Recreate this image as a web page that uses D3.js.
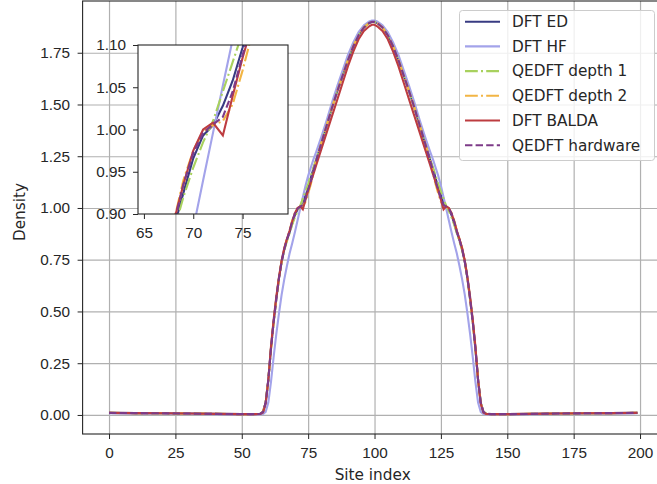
<!DOCTYPE html>
<html>
<head>
<meta charset="utf-8">
<script src="https://cdn.jsdelivr.net/npm/d3@7"></script>
<style>
  body { margin: 0; background: #fff; }
  svg { display: block; font-family: "DejaVu Sans", sans-serif; }
  .tick text { font-size: 15.3px; fill: #262626; }
  .tick line { stroke: #262626; }
  .domain { display: none; }
  .grid .tick line { stroke: #b0b0b0; stroke-width: 1.2; }
  .grid text { display: none; }
</style>
</head>
<body>
<svg width="657" height="484"></svg>
<script>
const sites = [0, 10, 20, 30, 40, 50, 55, 57,
  58, 59, 60, 61, 62, 63, 64, 65, 66, 67, 68, 69, 70, 71, 72, 73, 74, 75, 76, 77, 78,
  80, 82, 84, 86, 88, 90, 92, 94, 96, 98, 99,
  100, 101, 103, 105, 107, 109, 111, 113, 115, 117, 119, 121,
  122, 123, 124, 125, 126, 127, 128, 129, 130, 131, 132, 133, 134, 135, 136, 137, 138, 139, 140, 141, 142,
  144, 149, 159, 169, 179, 189, 199];

const dftED = [0.010, 0.009, 0.008, 0.007, 0.005, 0.004, 0.004, 0.006,
  0.015, 0.06, 0.17, 0.32, 0.45, 0.56, 0.66, 0.74, 0.80, 0.845, 0.882, 0.925, 0.966, 0.993, 1.005, 1.028, 1.058, 1.097, 1.145, 1.19, 1.23,
  1.315, 1.40, 1.485, 1.565, 1.64, 1.715, 1.78, 1.835, 1.872, 1.894, 1.900,
  1.900, 1.894, 1.872, 1.835, 1.78, 1.715, 1.64, 1.565, 1.485, 1.40, 1.315, 1.23,
  1.19, 1.145, 1.097, 1.058, 1.028, 1.005, 0.993, 0.966, 0.925, 0.882, 0.845, 0.80, 0.74, 0.66, 0.56, 0.45, 0.32, 0.17, 0.06, 0.015, 0.006,
  0.004, 0.004, 0.005, 0.007, 0.008, 0.009, 0.010];

const dftHF = [0.008, 0.007, 0.006, 0.005, 0.004, 0.003, 0.003, 0.003,
  0.005, 0.015, 0.06, 0.16, 0.28, 0.39, 0.49, 0.58, 0.655, 0.72, 0.78, 0.83, 0.883, 0.94, 0.996, 1.052, 1.107, 1.155, 1.195, 1.235, 1.27,
  1.345, 1.425, 1.51, 1.59, 1.665, 1.74, 1.80, 1.85, 1.883, 1.901, 1.906,
  1.906, 1.901, 1.883, 1.85, 1.80, 1.74, 1.665, 1.59, 1.51, 1.425, 1.345, 1.27,
  1.235, 1.195, 1.155, 1.107, 1.052, 0.996, 0.94, 0.883, 0.83, 0.78, 0.72, 0.655, 0.58, 0.49, 0.39, 0.28, 0.16, 0.06, 0.015, 0.005, 0.003,
  0.003, 0.003, 0.004, 0.005, 0.006, 0.007, 0.008];

const qedftDepth1 = [0.010, 0.009, 0.008, 0.007, 0.005, 0.004, 0.004, 0.006,
  0.015, 0.06, 0.17, 0.32, 0.45, 0.56, 0.66, 0.74, 0.795, 0.84, 0.878, 0.92, 0.955, 0.985, 1.01, 1.045, 1.08, 1.115, 1.155, 1.195, 1.232,
  1.315, 1.40, 1.485, 1.565, 1.64, 1.715, 1.78, 1.835, 1.872, 1.894, 1.900,
  1.900, 1.894, 1.872, 1.835, 1.78, 1.715, 1.64, 1.565, 1.485, 1.40, 1.315, 1.232,
  1.195, 1.155, 1.115, 1.08, 1.045, 1.01, 0.985, 0.955, 0.92, 0.878, 0.84, 0.795, 0.74, 0.66, 0.56, 0.45, 0.32, 0.17, 0.06, 0.015, 0.006,
  0.004, 0.004, 0.005, 0.007, 0.008, 0.009, 0.010];

const qedftDepth2 = [0.010, 0.009, 0.008, 0.007, 0.005, 0.004, 0.004, 0.006,
  0.015, 0.06, 0.17, 0.32, 0.45, 0.56, 0.66, 0.745, 0.805, 0.85, 0.89, 0.94, 0.975, 0.998, 1.005, 1.01, 1.03, 1.07, 1.115, 1.17, 1.225,
  1.315, 1.40, 1.485, 1.565, 1.64, 1.715, 1.78, 1.835, 1.872, 1.894, 1.898,
  1.898, 1.894, 1.872, 1.835, 1.78, 1.715, 1.64, 1.565, 1.485, 1.40, 1.315, 1.225,
  1.17, 1.115, 1.07, 1.03, 1.01, 1.005, 0.998, 0.975, 0.94, 0.89, 0.85, 0.805, 0.745, 0.66, 0.56, 0.45, 0.32, 0.17, 0.06, 0.015, 0.006,
  0.004, 0.004, 0.005, 0.007, 0.008, 0.009, 0.010];

const dftBALDA = [0.010, 0.009, 0.008, 0.007, 0.005, 0.004, 0.004, 0.005,
  0.012, 0.055, 0.17, 0.33, 0.46, 0.57, 0.665, 0.745, 0.805, 0.85, 0.89, 0.935, 0.975, 1.0, 1.008, 0.993, 1.04, 1.085, 1.125, 1.165, 1.205,
  1.285, 1.365, 1.445, 1.525, 1.605, 1.685, 1.755, 1.815, 1.855, 1.878, 1.885,
  1.885, 1.878, 1.855, 1.815, 1.755, 1.685, 1.605, 1.525, 1.445, 1.365, 1.285, 1.205,
  1.165, 1.125, 1.085, 1.04, 0.993, 1.008, 1.0, 0.975, 0.935, 0.89, 0.85, 0.805, 0.745, 0.665, 0.57, 0.46, 0.33, 0.17, 0.055, 0.012, 0.005,
  0.004, 0.004, 0.005, 0.007, 0.008, 0.009, 0.010];

const qedftHardware = [0.010, 0.009, 0.008, 0.007, 0.005, 0.004, 0.004, 0.006,
  0.015, 0.06, 0.17, 0.32, 0.45, 0.56, 0.66, 0.74, 0.80, 0.848, 0.886, 0.935, 0.972, 0.996, 1.006, 1.015, 1.045, 1.088, 1.13, 1.18, 1.228,
  1.315, 1.40, 1.485, 1.565, 1.64, 1.715, 1.78, 1.835, 1.872, 1.894, 1.899,
  1.899, 1.894, 1.872, 1.835, 1.78, 1.715, 1.64, 1.565, 1.485, 1.40, 1.315, 1.228,
  1.18, 1.13, 1.088, 1.045, 1.015, 1.006, 0.996, 0.972, 0.935, 0.886, 0.848, 0.80, 0.74, 0.66, 0.56, 0.45, 0.32, 0.17, 0.06, 0.015, 0.006,
  0.004, 0.004, 0.005, 0.007, 0.008, 0.009, 0.010];

const seriesNames = ["DFT ED", "DFT HF", "QEDFT depth 1", "QEDFT depth 2", "DFT BALDA", "QEDFT hardware"];
const xTicks = [0, 25, 50, 75, 100, 125, 150, 175, 200];
const yTicks = [0, 0.25, 0.5, 0.75, 1.0, 1.25, 1.5, 1.75];
const insetXTicks = [65, 70, 75];
const insetYTicks = [0.90, 0.95, 1.00, 1.05, 1.10];

const series = [
  { name: seriesNames[0], values: dftED, color: "#383b82", dash: null },
  { name: seriesNames[1], values: dftHF, color: "#a3a3ea", dash: null },
  { name: seriesNames[2], values: qedftDepth1, color: "#a8d15e", dash: "12.8,3.2,2,3.2" },
  { name: seriesNames[3], values: qedftDepth2, color: "#f2b544", dash: "12.8,3.2,2,3.2" },
  { name: seriesNames[4], values: dftBALDA, color: "#bd3c40", dash: null },
  { name: seriesNames[5], values: qedftHardware, color: "#7d3b88", dash: "7.4,3.2" },
];

const svg = d3.select("svg");

// main axes
const plot = { left: 82.6, right: 663.8, top: 1, bottom: 434 };
const x = d3.scaleLinear().domain([-9.95, 208.95]).range([plot.left, plot.right]);
const y = d3.scaleLinear().domain([-0.092, 2.0]).range([plot.bottom, plot.top]);

svg.append("clipPath").attr("id", "clip-main")
  .append("rect")
  .attr("x", plot.left).attr("y", plot.top)
  .attr("width", plot.right - plot.left).attr("height", plot.bottom - plot.top);

svg.append("g")
  .attr("class", "grid")
  .attr("transform", `translate(0, ${plot.bottom})`)
  .call(d3.axisBottom(x).tickValues(xTicks).tickSize(-(plot.bottom - plot.top)));

svg.append("g")
  .attr("class", "grid")
  .attr("transform", `translate(${plot.left}, 0)`)
  .call(d3.axisLeft(y).tickValues(yTicks).tickSize(-(plot.right - plot.left)));

const line = d3.line()
  .x((d, i) => x(sites[i]))
  .y((d) => y(d));

svg.append("g")
  .attr("clip-path", "url(#clip-main)")
  .selectAll("path")
  .data(series)
  .join("path")
  .attr("fill", "none")
  .attr("stroke", (d) => d.color)
  .attr("stroke-width", 2.1)
  .attr("stroke-dasharray", (d) => d.dash)
  .attr("d", (d) => line(d.values));

svg.append("rect")
  .attr("x", plot.left).attr("y", plot.top)
  .attr("width", plot.right - plot.left).attr("height", plot.bottom - plot.top)
  .attr("fill", "none").attr("stroke", "#262626").attr("stroke-width", 1.1);

svg.append("g")
  .attr("transform", `translate(0, ${plot.bottom})`)
  .call(d3.axisBottom(x).tickValues(xTicks).tickSize(5).tickPadding(8).tickFormat(d3.format("d")));

svg.append("g")
  .attr("transform", `translate(${plot.left}, 0)`)
  .call(d3.axisLeft(y).tickValues(yTicks).tickSize(5).tickPadding(7.5).tickFormat(d3.format(".2f")));

svg.append("text")
  .attr("x", (plot.left + plot.right) / 2 - 0.5).attr("y", 479.5)
  .attr("text-anchor", "middle").attr("font-size", 15.3).attr("fill", "#262626")
  .text("Site index");

svg.append("text")
  .attr("transform", "translate(25, 212) rotate(-90)")
  .attr("text-anchor", "middle").attr("font-size", 15.3).attr("fill", "#262626")
  .text("Density");

// inset zoom on the left shoulder
const inset = { left: 138, right: 288, top: 45, bottom: 214 };
const xi = d3.scaleLinear().domain([64.4, 79.6]).range([inset.left, inset.right]);
const yi = d3.scaleLinear().domain([0.9, 1.1]).range([inset.bottom, inset.top]);

svg.append("clipPath").attr("id", "clip-inset")
  .append("rect")
  .attr("x", inset.left).attr("y", inset.top)
  .attr("width", inset.right - inset.left).attr("height", inset.bottom - inset.top);

svg.append("rect")
  .attr("x", inset.left).attr("y", inset.top)
  .attr("width", inset.right - inset.left).attr("height", inset.bottom - inset.top)
  .attr("fill", "#fff");

const insetLine = d3.line()
  .x((d, i) => xi(sites[i]))
  .y((d) => yi(d));

svg.append("g")
  .attr("clip-path", "url(#clip-inset)")
  .selectAll("path")
  .data(series)
  .join("path")
  .attr("fill", "none")
  .attr("stroke", (d) => d.color)
  .attr("stroke-width", 2.1)
  .attr("stroke-dasharray", (d) => d.dash)
  .attr("d", (d) => insetLine(d.values));

svg.append("rect")
  .attr("x", inset.left).attr("y", inset.top)
  .attr("width", inset.right - inset.left).attr("height", inset.bottom - inset.top)
  .attr("fill", "none").attr("stroke", "#262626").attr("stroke-width", 1.1);

svg.append("g")
  .attr("transform", `translate(0, ${inset.bottom})`)
  .call(d3.axisBottom(xi).tickValues(insetXTicks).tickSize(5).tickPadding(8).tickFormat(d3.format("d")));

svg.append("g")
  .attr("transform", `translate(${inset.left}, 0)`)
  .call(d3.axisLeft(yi).tickValues(insetYTicks).tickSize(5).tickPadding(7).tickFormat(d3.format(".2f")));

// legend
const legend = svg.append("g").attr("transform", "translate(459.5, 10.5)");

legend.append("rect")
  .attr("width", 195).attr("height", 150).attr("rx", 3)
  .attr("fill", "#fff").attr("fill-opacity", 0.8)
  .attr("stroke", "#cccccc").attr("stroke-width", 1);

const entry = legend.selectAll("g.entry")
  .data(series)
  .join("g")
  .attr("class", "entry")
  .attr("transform", (d, i) => `translate(0, ${11.2 + i * 24.7})`);

entry.append("line")
  .attr("x1", 5.5).attr("x2", 40.5)
  .attr("stroke", (d) => d.color)
  .attr("stroke-width", 2.1)
  .attr("stroke-dasharray", (d) => d.dash);

entry.append("text")
  .attr("x", 52.5).attr("dy", "0.35em")
  .attr("font-size", 15.3).attr("fill", "#262626")
  .text((d) => d.name);
</script>
</body>
</html>
